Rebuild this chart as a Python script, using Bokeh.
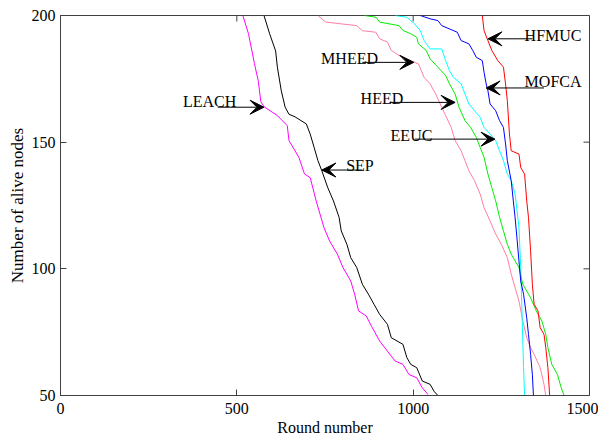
from bokeh.plotting import figure
from bokeh.models import Arrow, VeeHead, FixedTicker
from bokeh.core.properties import value
from bokeh.embed import file_html
from bokeh.resources import INLINE

leach_x = [517, 533, 550, 561, 568, 577, 615, 643, 648, 676, 692, 708, 725, 747, 763, 785, 801, 823, 834, 845, 867, 884, 905, 927, 949, 971, 988, 1010, 1026, 1042]
leach_y = [200, 192.8, 181, 174, 166, 164, 160.5, 156.5, 150.6, 144, 137.4, 136, 126.8, 116.3, 111, 105.8, 100.5, 95.2, 90, 83.4, 81.4, 76.8, 71.5, 67.5, 63.6, 62.3, 58.3, 57, 53, 50.4]

sep_x = [577, 593, 610, 615, 626, 637, 648, 665, 697, 708, 719, 730, 741, 758, 774, 790, 796, 812, 823, 840, 856, 873, 889, 905, 927, 938, 971, 982, 993, 1010, 1026, 1048, 1059, 1070]
sep_y = [200, 192.8, 186, 179.6, 170.3, 163.8, 161, 160, 157.2, 153.2, 148, 142.7, 138.7, 132, 126.8, 120.3, 115, 109.7, 104.4, 100.5, 93.9, 90, 86, 82, 78.1, 72.8, 70.2, 65, 62.3, 61, 55.7, 54.4, 51.7, 50]

mheed_x = [730, 752, 796, 840, 856, 894, 905, 927, 938, 960, 993, 1015, 1031, 1048, 1064, 1081, 1092, 1108, 1119, 1136, 1147, 1158, 1174, 1190, 1201, 1218, 1234, 1250, 1267, 1278, 1289, 1300, 1311, 1322, 1333, 1343, 1360, 1371, 1376]
mheed_y = [200, 197.4, 196.7, 196, 194, 193.4, 190.8, 189.5, 186.2, 184.2, 182.2, 180.9, 175.6, 173, 169, 163.8, 160.5, 155.8, 150.6, 146.6, 142.7, 138.7, 134.8, 129.5, 124.2, 118.9, 113.7, 109.7, 104.4, 97.9, 92.6, 87.3, 79.4, 72.8, 68.9, 66.2, 61, 54.4, 50]

heed_x = [862, 895, 905, 960, 971, 993, 1010, 1015, 1037, 1048, 1070, 1092, 1103, 1119, 1130, 1147, 1163, 1179, 1190, 1201, 1212, 1223, 1234, 1245, 1256, 1267, 1278, 1300, 1311, 1333, 1349, 1365, 1376, 1382, 1393, 1409, 1420, 1428]
heed_y = [200, 199.3, 197.4, 196, 194.1, 192.8, 191.4, 188.8, 186.2, 182.9, 179.6, 176.3, 173, 169, 163.8, 158.5, 155.8, 151.9, 147.9, 144, 137.4, 132.1, 126.8, 120.3, 115, 109.7, 105.8, 100.5, 93.9, 88.6, 83.4, 79.4, 74.1, 68.9, 62.3, 58.3, 53, 50]

eeuc_x = [949, 982, 1004, 1020, 1031, 1048, 1081, 1092, 1103, 1114, 1136, 1147, 1158, 1174, 1190, 1201, 1218, 1234, 1245, 1256, 1267, 1278, 1289, 1300, 1305, 1309, 1313, 1316]
eeuc_y = [200, 199.3, 196.7, 194.1, 190.1, 186.8, 186.8, 182.2, 178.2, 175.6, 173, 169, 165.1, 162.4, 159.8, 155.8, 153.2, 150.6, 146.6, 142.7, 137.4, 134.8, 129.5, 116.3, 100.5, 80.7, 61, 50]

mofca_x = [1020, 1048, 1070, 1081, 1103, 1125, 1136, 1158, 1169, 1179, 1196, 1201, 1207, 1212, 1218, 1234, 1245, 1256, 1262, 1267, 1278, 1284, 1289, 1295, 1300, 1305, 1313, 1322, 1327, 1333, 1338, 1341]
mofca_y = [200, 198.7, 198, 196, 194.7, 193.4, 190.1, 188.8, 186.2, 183.5, 182.2, 177.6, 173, 170.3, 165.1, 162.4, 158.5, 155.8, 149.3, 142.7, 134.8, 126.8, 120.3, 111, 103.1, 95.2, 90, 80.7, 74.1, 66.2, 58.3, 50]

hfmuc_x = [1196, 1201, 1212, 1223, 1240, 1256, 1262, 1267, 1273, 1278, 1300, 1305, 1316, 1322, 1327, 1333, 1338, 1343, 1354, 1360, 1371, 1376, 1382, 1387]
hfmuc_y = [200, 194, 190.1, 186.2, 182.2, 179.6, 173, 166.4, 153.2, 146.6, 145.3, 140, 137.4, 126.8, 120.3, 107.1, 93.9, 86, 83.4, 76.8, 74.1, 68.9, 61, 50]

series_names = ["LEACH", "SEP", "MHEED", "HEED", "EEUC", "MOFCA", "HFMUC"]
series_colors = ["#ff00ff", "#000000", "#ff7fa0", "#00ee00", "#00ffff", "#0000ff", "#ff0000"]

# annotation labels: text left x, baseline y, arrow tail x, arrow head x, arrow y
label_text_x = [347, 810, 739, 851, 936, 1316, 1316]
label_text_y = [166.0, 140.8, 182.9, 167.4, 152.6, 173.9, 192.1]
arrow_tail_x = [446, 856, 856, 933, 1004, 1371, 1338]
arrow_head_x = [577, 741, 1002, 1119, 1232, 1207, 1212]
arrow_y = [163.8, 139, 181.5, 165.7, 151.2, 171.4, 190.8]

x_ticks = [0, 500, 1000, 1500]
y_ticks = [50, 100, 150, 200]

FONT = "Liberation Serif"
AX = "#404040"
X0, X1, Y0, Y1 = 0, 1500, 50, 200

p = figure(width=598, height=440, output_backend="svg", toolbar_location=None,
           x_range=(X0, X1), y_range=(Y0, Y1),
           min_border_left=60, min_border_right=9, min_border_top=15, min_border_bottom=45)
p.xgrid.visible = False
p.ygrid.visible = False
p.outline_line_color = AX
p.background_fill_color = "white"

xs = [leach_x, sep_x, mheed_x, heed_x, eeuc_x, mofca_x, hfmuc_x]
ys = [leach_y, sep_y, mheed_y, heed_y, eeuc_y, mofca_y, hfmuc_y]
for xv, yv, c in zip(xs, ys, series_colors):
    p.line(xv, yv, line_color=c, line_width=1)

for i, name in enumerate(series_names):
    p.add_layout(Arrow(end=VeeHead(size=14, fill_color="black", line_color="black"),
                       x_start=arrow_tail_x[i], y_start=arrow_y[i],
                       x_end=arrow_head_x[i], y_end=arrow_y[i],
                       line_color="black", line_width=1))
p.text(x=label_text_x, y=label_text_y, text=series_names,
       text_font=value(FONT), text_font_size="16px", text_color="black",
       text_baseline="alphabetic", text_align="left")

# inward mirror ticks on the top and right frame edges
tick_len_y = (Y1 - Y0) * 6 / 380
tick_len_x = (X1 - X0) * 6 / 529
p.segment(x0=x_ticks, y0=[Y1] * len(x_ticks), x1=x_ticks, y1=[Y1 - tick_len_y] * len(x_ticks),
          line_color=AX, line_width=1)
p.segment(x0=[X1] * len(y_ticks), y0=y_ticks, x1=[X1 - tick_len_x] * len(y_ticks), y1=y_ticks,
          line_color=AX, line_width=1)

for ax in (p.xaxis[0], p.yaxis[0]):
    ax.major_label_text_font = FONT
    ax.major_label_text_font_size = "16px"
    ax.major_label_text_color = "black"
    ax.axis_label_text_font = FONT
    ax.axis_label_text_font_style = "normal"
    ax.axis_label_text_color = "black"
    ax.axis_line_color = AX
    ax.major_tick_line_color = AX
    ax.major_tick_in = 6
    ax.major_tick_out = 0
    ax.minor_tick_line_color = None

p.xaxis[0].ticker = FixedTicker(ticks=x_ticks)
p.yaxis[0].ticker = FixedTicker(ticks=y_ticks)
p.xaxis[0].axis_label = "Round number"
p.xaxis[0].axis_label_text_font_size = "16px"
p.xaxis[0].major_label_standoff = 7
p.xaxis[0].axis_label_standoff = 2
p.yaxis[0].axis_label = "Number of alive nodes"
p.yaxis[0].axis_label_text_font_size = "17px"
p.yaxis[0].major_label_standoff = 5
p.yaxis[0].axis_label_standoff = 2

open("out.html", "w").write(file_html(p, INLINE))
